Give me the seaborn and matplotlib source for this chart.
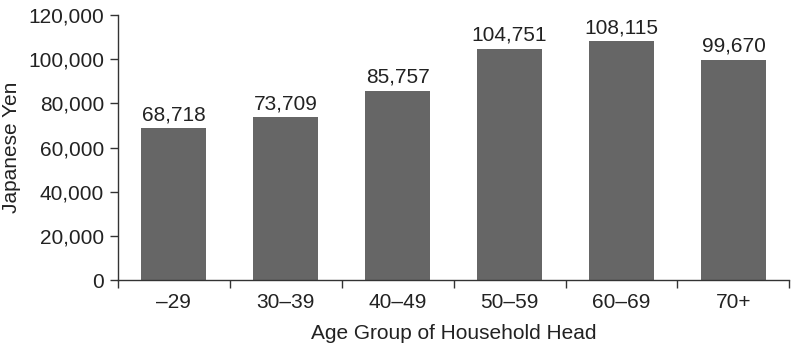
import numpy as np
import pandas as pd
import matplotlib
matplotlib.use("Agg")
import matplotlib.pyplot as plt
import seaborn as sns
from matplotlib.ticker import FuncFormatter, FixedLocator

age_groups = ["\u201329", "30\u201339", "40\u201349", "50\u201359", "60\u201369", "70+"]
spending = [68718, 73709, 85757, 104751, 108115, 99670]

sns.set_style("white")
plt.rcParams["font.family"] = ["Liberation Sans", "DejaVu Sans"]
plt.rcParams["font.size"] = 15

df = pd.DataFrame({"age": age_groups, "yen": spending})

fig = plt.figure(figsize=(7.91, 3.48), dpi=100)
ax = fig.add_axes([0.149, 0.195, 0.849, 0.762])
sns.barplot(data=df, x="age", y="yen", order=age_groups, color="#666666",
            saturation=1, width=0.58, linewidth=0, ax=ax)

ax.bar_label(ax.containers[0], labels=[f"{v:,}" for v in spending],
             padding=3, fontsize=15, color="#222222")

ax.set_xlim(-0.5, len(age_groups) - 0.5)
ax.set_ylim(0, 120000)
ax.set_yticks(np.arange(0, 120001, 20000))
ax.yaxis.set_major_formatter(FuncFormatter(lambda v, p: f"{int(v):,}"))

# ticks sit between the categories
ax.xaxis.set_minor_locator(FixedLocator(np.arange(-0.5, len(age_groups), 1.0)))
ax.tick_params(axis="x", which="major", length=0, pad=9, labelsize=15, colors="#222222")
ax.tick_params(axis="x", which="minor", length=6, width=1, direction="out", bottom=True, color="#333333")
ax.tick_params(axis="y", length=6, width=1, direction="out", left=True, labelsize=15,
               color="#333333", labelcolor="#222222", pad=4)

for side in ["top", "right"]:
    ax.spines[side].set_visible(False)
for side in ["left", "bottom"]:
    ax.spines[side].set_color("#333333")
    ax.spines[side].set_linewidth(1)

ax.set_xlabel("Age Group of Household Head", fontsize=15, color="#222222", labelpad=9)
ax.set_ylabel("Japanese Yen", fontsize=15, color="#222222", labelpad=5)

fig.savefig("out.png", dpi=100)
